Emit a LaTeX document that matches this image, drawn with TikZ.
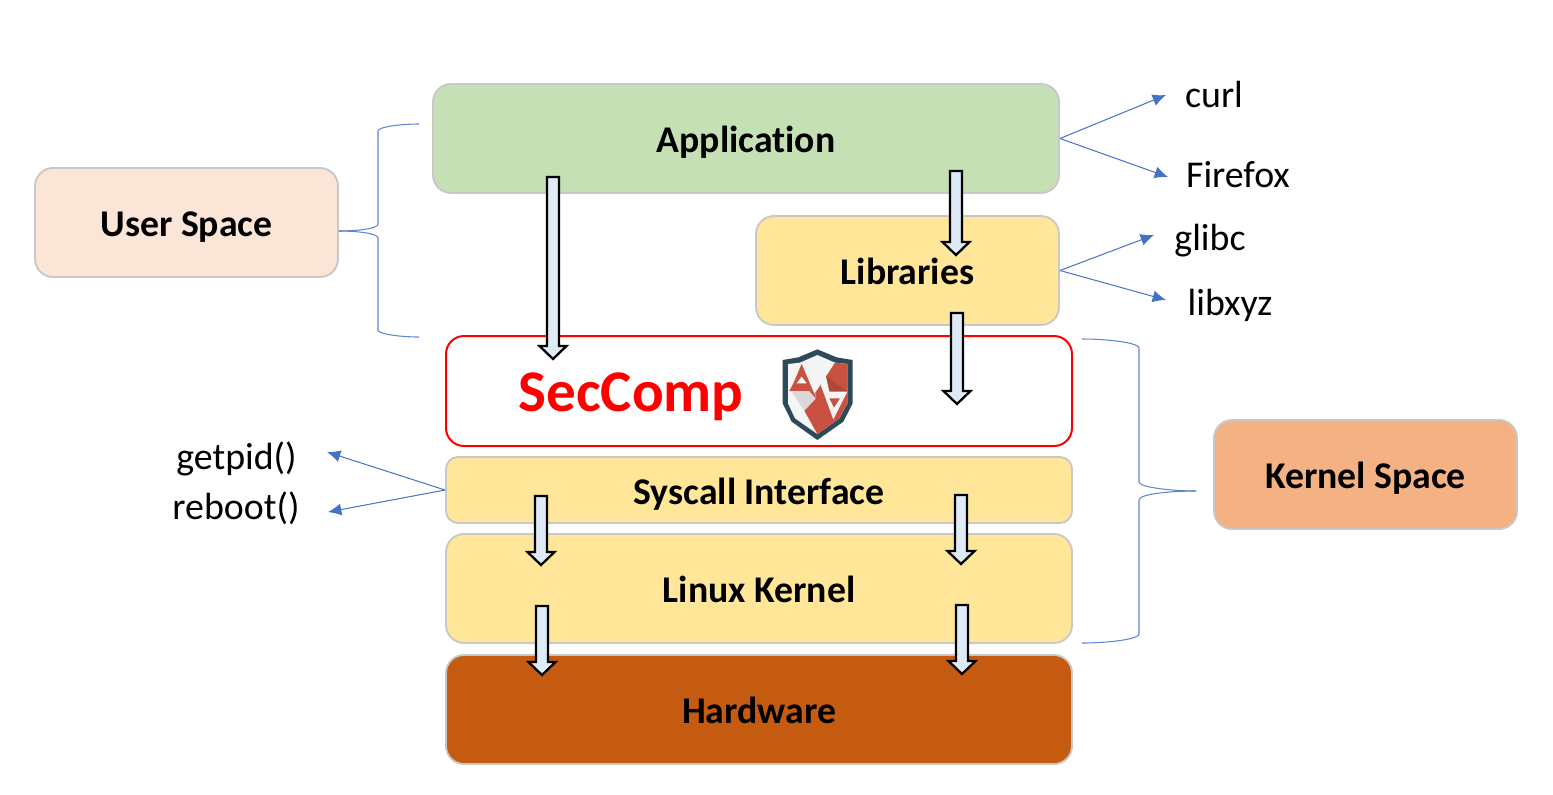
\documentclass[tikz,border=0pt]{standalone}
\usepackage{fontspec}
\setmainfont[Ligatures=NoCommon]{Carlito}
\usetikzlibrary{arrows.meta}
\definecolor{bluel}{HTML}{4472C4}
\definecolor{edgeg}{HTML}{C8C8C8}
\definecolor{greenb}{HTML}{C5E0B4}
\definecolor{peachb}{HTML}{FBE5D6}
\definecolor{yellowb}{HTML}{FFE699}
\definecolor{brownb}{HTML}{C55A11}
\definecolor{orangeb}{HTML}{F4B183}
\definecolor{arrowf}{HTML}{DEEAF6}
\definecolor{shieldd}{HTML}{2C4A5A}
\definecolor{shieldr}{HTML}{C9513F}
\tikzset{
  box/.style={draw=edgeg,line width=1.4pt,rounded corners=13.5pt,inner sep=0pt,align=center,text height=21.5pt,text depth=0pt,font=\fontsize{28.3}{30}\selectfont\bfseries},
  thinarrow/.style={draw=bluel,line width=0.75pt,-{Latex[length=10pt,width=9pt]}},
  bracket/.style={draw=bluel!85,line width=0.8pt},
  blockarrow/.style={draw=black,line width=1.7pt,fill=arrowf,line join=miter},
  plain/.style={inner sep=0pt,font=\fontsize{28.4}{32}\selectfont}
}
% x, top, bottom
\newcommand{\blockarr}[4]{%
  \coordinate (#1s) at (#2,#3);
  \coordinate (#1e) at (#2,#4);
  \draw[blockarrow] ({#2-6},#3) -- ({#2+6},#3) -- ({#2+6},{#4-13}) -- ({#2+13.5},{#4-13}) -- (#1e) -- ({#2-13.5},{#4-13}) -- ({#2-6},{#4-13}) -- cycle;
}
\begin{document}
\begin{tikzpicture}[x=0.75pt,y=-0.75pt]
\useasboundingbox (0,0) rectangle (1553,794);
\node[box,fill=greenb,minimum width=469.5pt,minimum height=81.75pt] (app) at (746,138.5) {Application};
\node[box,fill=peachb,minimum width=227.25pt,minimum height=81.75pt] (user) at (186.5,222.5) {User Space};
\node[box,fill=yellowb,minimum width=227.25pt,minimum height=81.75pt] (lib) at (907.5,270.5) {Libraries};
\node[box,draw=red,fill=white,line width=1.5pt,minimum width=469.5pt,minimum height=82.5pt] (sec) at (759,391) {};
\node[box,fill=yellowb,rounded corners=9pt,minimum width=469.5pt,minimum height=49.5pt] (sys) at (759,490) {Syscall Interface};
\node[box,fill=yellowb,minimum width=469.5pt,minimum height=81.75pt] (kern) at (759,588.5) {Linux Kernel};
\node[box,fill=brownb,minimum width=469.5pt,minimum height=81.75pt] (hw) at (759,709.5) {Hardware};
\node[box,fill=orangeb,minimum width=227.25pt,minimum height=81.75pt] (ks) at (1365.5,474.5) {Kernel Space};
\node[inner sep=0pt,text=red,font=\fontsize{44.3}{50}\selectfont\bfseries] (sectext) at (631,397) {SecComp};
% logo
\begin{scope}[shift={(760,340)},x=0.25pt,y=-0.25pt]
\fill[shieldd] (172,28) -- (230,52) -- (278,60) -- (278,190) -- (250,245) -- (172,300) -- (95,245) -- (68,190) -- (68,60) -- (115,52) -- cycle;
\fill[white!96!black] (172,45) -- (225,68) -- (262,72) -- (262,190) -- (238,235) -- (172,282) -- (105,235) -- (84,190) -- (84,72) -- (120,68) -- cycle;
\fill[shieldr] (225,68) -- (262,72) -- (262,190) -- (238,235) -- (172,282) -- (133,212) -- (165,160) -- cycle;
\fill[black!15] (95,155) -- (165,155) -- (168,175) -- (133,212) -- cycle;
\fill[shieldr!88!black] (195,105) -- (262,155) -- (208,155) -- (185,125) -- cycle;
\fill[shieldr] (125,72) -- (170,178) -- (148,153) -- (88,153) -- (100,130) -- cycle;
\fill[white] (125,110) -- (140,130) -- (110,130) -- cycle;
\fill[white!96!black] (160,75) -- (190,75) -- (208,155) -- (262,155) -- (220,238) -- cycle;
\fill[shieldr] (208,175) -- (240,175) -- (222,203) -- cycle;
\end{scope}
% block arrows
\blockarr{aa}{553}{177}{359}
\blockarr{ab}{956}{171}{255}
\blockarr{ac}{957}{313}{404}
\blockarr{ad}{541}{496}{565}
\blockarr{ae}{961}{495}{564}
\blockarr{af}{542}{606}{675}
\blockarr{ag}{962}{605}{674}
% side labels
\node[plain] (curl) at (1214,94.5) {curl};
\node[plain] (firefox) at (1238,175) {Firefox};
\node[plain] (glibc) at (1210,241) {glibc};
\node[plain] (libxyz) at (1230,305) {libxyz};
\node[plain] (getpid) at (236.5,459) {getpid()};
\node[plain] (reboot) at (236,508) {reboot()};
% thin arrows
\coordinate (tcurl) at (1166,95);
\coordinate (tfire) at (1168,177);
\coordinate (tglibc) at (1154,235);
\coordinate (tlib) at (1166,300);
\coordinate (tget) at (327,452);
\coordinate (treb) at (328,512);
\draw[thinarrow] (app.east) -- (tcurl);
\draw[thinarrow] (app.east) -- (tfire);
\draw[thinarrow] (lib.east) -- (tglibc);
\draw[thinarrow] (lib.east) -- (tlib);
\draw[thinarrow] (sys.west) -- (tget);
\draw[thinarrow] (sys.west) -- (treb);
% brackets
\coordinate (ut) at (419,124);
\coordinate (ub) at (419,337);
\coordinate (ulev) at (0,231);
\coordinate (utip) at (user.east |- ulev);
\coordinate (ktop) at (1082,339);
\coordinate (kbot) at (1082,643);
\coordinate (ktip) at (1196,491);
\draw[bracket] (ut) .. controls (400,124) and (378,127) .. (378,131) -- (378,224) .. controls (378,229) and (355,231) .. (utip);
\draw[bracket] (utip) .. controls (355,231) and (378,233) .. (378,238) -- (378,330) .. controls (378,334) and (400,337) .. (ub);
\draw[bracket] (ktop) .. controls (1110,339) and (1139,343) .. (1139,348) -- (1139,482) .. controls (1139,487) and (1170,491) .. (ktip);
\draw[bracket] (ktip) .. controls (1170,491) and (1139,494) .. (1139,500) -- (1139,634) .. controls (1139,639) and (1110,643) .. (kbot);
\end{tikzpicture}
\end{document}
